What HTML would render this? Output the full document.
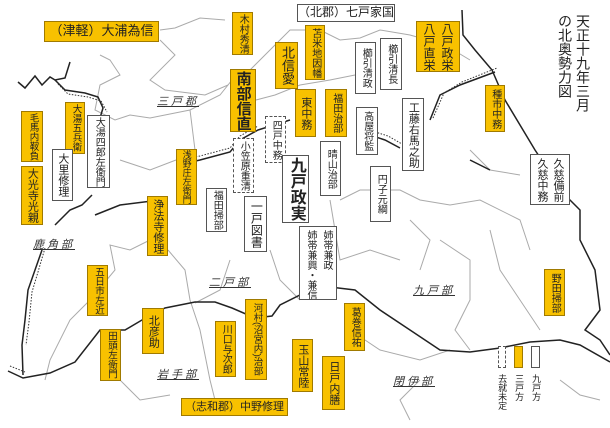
<!DOCTYPE html>
<html><head><meta charset="utf-8"><style>
body{margin:0;width:610px;height:428px;background:#fff;position:relative;overflow:hidden;font-family:"Liberation Sans","Noto Sans CJK JP",sans-serif;}
.b{position:absolute;box-sizing:border-box;border:1px solid #555;background:#fff;writing-mode:vertical-rl;font-size:11px;line-height:1.15;display:flex;align-items:center;justify-content:center;color:#222;white-space:nowrap;overflow:hidden;}
.y{background:#f8c100;border-color:#a07a00;}
.d{border:1px dashed #555;}
.h{writing-mode:horizontal-tb;font-size:13px;}
.lab{position:absolute;font-size:11px;color:#333;text-decoration:underline;letter-spacing:3px;font-style:italic;white-space:nowrap;}
svg{position:absolute;left:0;top:0;}
</style></head><body>
<svg width="610" height="428">
<g fill="none" stroke="#aaa" stroke-width="1">
<path d="M160,30 L175,28 L200,18 L225,20"/>
<path d="M100,55 L110,60 L120,75 L100,85 L95,110 L115,120 L130,115 L150,118 L190,110 L220,95 L232,80"/>
<path d="M160,40 L175,55 L150,80 L165,90 L205,95 L228,85"/>
<path d="M250,70 L270,50 L290,30 L320,30 L340,40 L360,38 L380,30 L410,35 L445,45 L470,60"/>
<path d="M256,100 L275,95 L300,85 L330,80 L355,75"/>
<path d="M190,110 L195,150"/>
<path d="M120,160 L150,170 L176,160"/>
<path d="M150,240 L130,250 L110,245 L115,270 L90,300 L70,320 L50,360 L45,380"/>
<path d="M168,250 L185,270 L190,300 L200,330 L210,380 L215,400"/>
<path d="M230,260 L220,290 L195,303"/>
<path d="M270,250 L280,280 L300,300"/>
<path d="M340,200 L360,190 L400,190 L420,200 L450,205 L480,200 L520,220 L530,250"/>
<path d="M440,240 L470,260 L470,300 L455,330 L470,350"/>
<path d="M490,230 L500,270 L520,300 L540,330"/>
<path d="M410,220 L430,240 L420,270"/>
<path d="M350,330 L380,350 L420,360 L450,350"/>
<path d="M420,380 L400,400 L410,420"/>
<path d="M560,380 L580,395 L600,400"/>
<path d="M330,200 L340,260 L370,250 L400,260"/>
<path d="M120,380 L140,400 L170,395"/>
<path d="M470,150 L490,170 L520,175"/>
</g>
<g fill="none" stroke="#222" stroke-width="1.5">
<path d="M18,82 L25,88 L35,76 L42,85 L50,77 L55,80 L65,78 L70,62"/>
<path d="M55,80 L65,90 L85,93 L98,97 L103,108 L100,118"/>
<path d="M92,195 L82,205 L70,210 L55,225"/>
<path d="M42,250 L35,270 L28,290 L25,320 L22,345 L23,375"/>
<path d="M8,371 L23,378 L50,373 L75,362 L100,330 L125,330 L142,320 L165,308 L195,302 L215,302 L232,308 L255,318 L272,316 L280,305 L300,295 L330,287 L355,290 L380,310 L410,330 L440,350 L470,352 L500,348 L530,342 L560,340 L580,345 L610,362"/>
<path d="M462,10 L463,35 L475,50 L492,70 L505,100 L520,125 L535,150 L545,165 L560,190 L580,210 L580,240 L595,270 L600,310 L585,330 L600,340 L610,355"/>
<path d="M178,165 L200,160 L230,152 L240,140 L258,130 L290,120"/>
<path d="M370,135 L385,140 L400,148"/>
<path d="M430,120 L440,95 L460,85 L495,72"/>
<path d="M470,160 L490,170"/>
<path d="M160,200 L120,205 L95,215"/>
</g>
<g fill="none" stroke="#333" stroke-width="1" stroke-dasharray="1.5,1.5">
<path d="M58,84 L68,94 L88,97 L101,101 L107,112"/>
<path d="M45,248 L38,272 L32,292 L29,322 L26,345"/>
<path d="M178,160 L200,156 L230,148 L240,136 L258,126"/>
<path d="M372,131 L388,136 L402,144"/>
<path d="M433,118 L444,93 L462,82 L497,68"/>
<path d="M10,366 L25,372"/>
</g>
</svg>

<div class="b y h" style="left:44px;top:21px;width:115px;height:21px;">（津軽）大浦為信</div>
<div class="b y" style="left:232px;top:12px;width:21px;height:43px;font-size:10px;">木村秀清</div>
<div class="b h" style="left:297px;top:4px;width:98px;height:18px;font-size:12px;">（北郡）七戸家国</div>
<div class="b y" style="left:275px;top:42px;width:23px;height:47px;font-size:13px;">北信愛</div>
<div class="b y" style="left:305px;top:25px;width:20px;height:55px;font-size:10px;">苫米地因幡</div>
<div class="b y" style="left:230px;top:69px;width:26px;height:63px;font-size:15px;font-weight:bold;">南部信直</div>
<div class="b y" style="left:295px;top:89px;width:21px;height:48px;">東中務</div>
<div class="b y" style="left:325px;top:89px;width:22px;height:48px;font-size:10px;">福田治部</div>
<div class="b" style="left:355px;top:42px;width:21px;height:52px;font-size:10px;">櫛引清政</div>
<div class="b" style="left:380px;top:38px;width:22px;height:52px;font-size:10px;">櫛引清長</div>
<div class="b y" style="left:416px;top:21px;width:44px;height:51px;font-size:12px;line-height:18px;">八戸政栄<br>八戸直栄</div>
<div class="b" style="left:553px;top:14px;width:42px;height:106px;border:none;background:none;font-size:14px;line-height:18px;justify-content:flex-start;">天正十九年三月<br>の北奥勢力図</div>
<div class="b y" style="left:485px;top:85px;width:20px;height:47px;font-size:10px;">種市中務</div>
<div class="b" style="left:356px;top:107px;width:22px;height:48px;font-size:10px;">高屋将監</div>
<div class="b" style="left:402px;top:98px;width:22px;height:73px;">工藤右馬之助</div>
<div class="b" style="left:320px;top:141px;width:21px;height:55px;font-size:10px;">晴山治部</div>
<div class="b" style="left:370px;top:166px;width:21px;height:56px;font-size:10px;">円子元綱</div>
<div class="b" style="left:530px;top:154px;width:40px;height:51px;font-size:11px;line-height:16px;">久慈備前<br>久慈中務</div>
<div class="b d" style="left:265px;top:116px;width:21px;height:47px;font-size:10px;">四戸中務</div>
<div class="b d" style="left:233px;top:138px;width:21px;height:55px;font-size:10px;">小笠原重清</div>
<div class="b" style="left:282px;top:155px;width:27px;height:68px;font-size:16px;font-weight:bold;">九戸政実</div>
<div class="b" style="left:244px;top:196px;width:23px;height:56px;font-size:12px;">一戸図書</div>
<div class="b" style="left:206px;top:188px;width:21px;height:44px;font-size:10px;">福田掃部</div>
<div class="b y" style="left:176px;top:149px;width:21px;height:56px;font-size:9px;">浅野庄左衛門</div>
<div class="b" style="left:299px;top:226px;width:38px;height:74px;font-size:10px;line-height:16px;justify-content:flex-start;padding-top:3px;">姉帯兼政<br>姉帯兼興・兼信</div>
<div class="b y" style="left:147px;top:196px;width:21px;height:60px;">浄法寺修理</div>
<div class="b y" style="left:21px;top:111px;width:22px;height:51px;font-size:9.5px;">毛馬内靫負</div>
<div class="b y" style="left:65px;top:102px;width:20px;height:52px;font-size:9.5px;">大湯五兵衛</div>
<div class="b" style="left:87px;top:115px;width:23px;height:73px;font-size:10px;">大湯四郎左衛門</div>
<div class="b" style="left:52px;top:149px;width:21px;height:52px;">大里修理</div>
<div class="b y" style="left:21px;top:166px;width:22px;height:59px;">大光寺光親</div>
<div class="b y" style="left:87px;top:265px;width:21px;height:51px;font-size:9.5px;">五日市左近</div>
<div class="b y" style="left:142px;top:308px;width:22px;height:46px;">北彦助</div>
<div class="b y" style="left:100px;top:329px;width:21px;height:52px;font-size:9.5px;">田頭左衛門</div>
<div class="b y" style="left:215px;top:321px;width:21px;height:56px;font-size:10px;">川口与次郎</div>
<div class="b y" style="left:245px;top:299px;width:22px;height:81px;font-size:9.5px;">河村(沼宮内)治部</div>
<div class="b y" style="left:292px;top:339px;width:21px;height:53px;">玉山常陸</div>
<div class="b y" style="left:322px;top:356px;width:23px;height:54px;">日戸内膳</div>
<div class="b y" style="left:344px;top:303px;width:21px;height:48px;font-size:10px;">葛巻信祐</div>
<div class="b y" style="left:544px;top:269px;width:21px;height:47px;font-size:10px;">野田掃部</div>
<div class="b y h" style="left:181px;top:398px;width:107px;height:18px;font-size:11px;">（志和郡）中野修理</div>

<div class="b d" style="left:498px;top:346px;width:8px;height:22px;"></div>
<div class="b y" style="left:514px;top:346px;width:9px;height:22px;"></div>
<div class="b" style="left:531px;top:346px;width:9px;height:22px;"></div>
<div class="b" style="left:495px;top:374px;width:14px;height:40px;border:none;background:none;font-size:9px;justify-content:flex-start;">去就未定</div>
<div class="b" style="left:512px;top:374px;width:14px;height:40px;border:none;background:none;font-size:9px;justify-content:flex-start;">三戸方</div>
<div class="b" style="left:529px;top:374px;width:14px;height:40px;border:none;background:none;font-size:9px;justify-content:flex-start;">九戸方</div>

<div class="lab" style="left:157px;top:93px;">三戸郡</div>
<div class="lab" style="left:33px;top:236px;">鹿角部</div>
<div class="lab" style="left:209px;top:274px;">二戸部</div>
<div class="lab" style="left:413px;top:282px;">九戸部</div>
<div class="lab" style="left:157px;top:366px;">岩手部</div>
<div class="lab" style="left:393px;top:373px;">閉伊部</div>
</body></html>
